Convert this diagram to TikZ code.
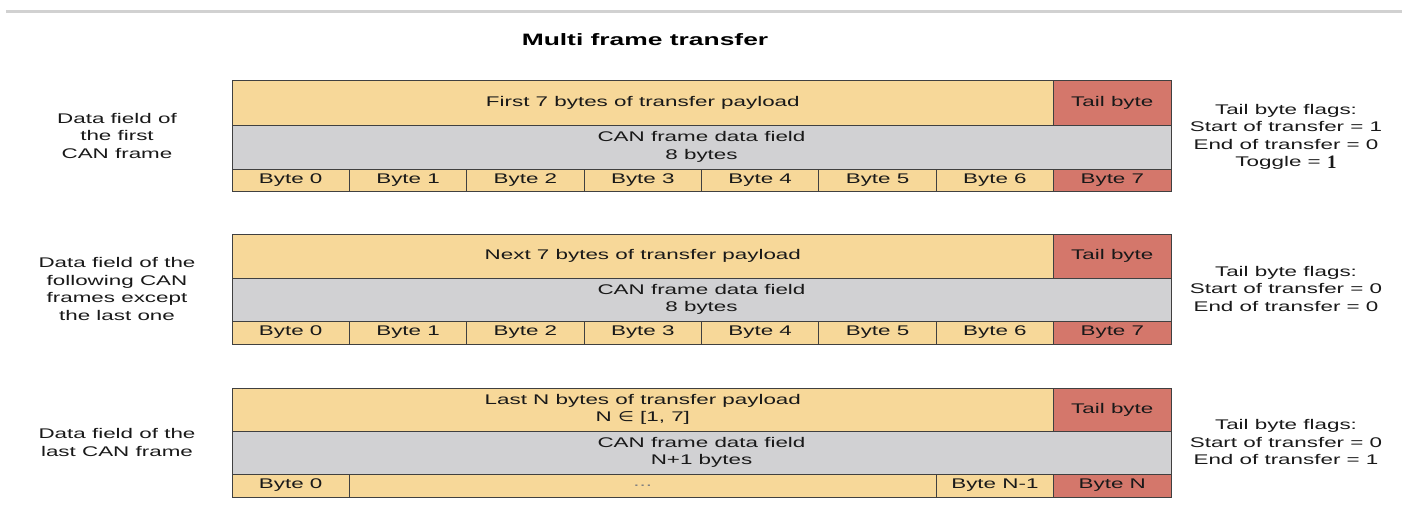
\documentclass[tikz,border=0pt]{standalone}
\usepackage{fontspec}
\setmainfont[FakeStretch=1.6]{Liberation Sans}
\newfontfamily\togglefont{Liberation Serif}
\newfontfamily\elemfont[FakeStretch=1.3]{DejaVu Sans}
\usetikzlibrary{positioning}

\definecolor{payloadyellow}{HTML}{F7D899}
\definecolor{tailred}{HTML}{D4776B}
\definecolor{fieldgray}{HTML}{D1D1D3}

\begin{document}
\begin{tikzpicture}[x = 1pt, y = -1pt]
  \tikzstyle{cell}=[rectangle, draw = black!75, thick, inner sep = 0pt, outer sep = 0pt, anchor = north west, align = center, text = black!90, font = \fontsize{14}{17.5}\selectfont]
  \tikzstyle{payload}=[cell, fill = payloadyellow]
  \tikzstyle{tail}=[cell, fill = tailred]
  \tikzstyle{datafield}=[cell, fill = fieldgray]
  \tikzstyle{note}=[align = center, text = black!90, font = \fontsize{14}{17.5}\selectfont]

  \useasboundingbox (0,0) rectangle (1402,510);
  \draw[black!18, line width = 3pt] (6,12) -- (1402,12);

  \node[font = \bfseries\fontsize{16.5}{20}\selectfont] (title) at (645,40) {Multi frame transfer};

  % first frame
  \node[payload, minimum width = 821.6, minimum height = 45] (pay1) at (232,80) {First 7 bytes of transfer payload};
  \node[tail, minimum width = 117.4, minimum height = 45, right = 0pt of pay1] (tail1) {Tail byte};
  \node[datafield, minimum width = 939, minimum height = 44] (can1) at (232,125) {CAN frame data field\\8 bytes};
  \foreach \i in {0,...,6}
    \node[payload, minimum width = 117.4, minimum height = 22] (f1b\i) at ({232+117.375*\i},169) {Byte \i};
  \node[tail, minimum width = 117.4, minimum height = 22, right = 0pt of f1b6] (f1b7) {Byte 7};
  \node[note] (lab1) at (117,135.5) {Data field of\\the first\\CAN frame};
  \node[note] (flag1) at (1286,137) {Tail byte flags:\\Start of transfer = 1\\End of transfer = 0\\Toggle = \raisebox{-2pt}{\togglefont\bfseries\fontsize{19}{19}\selectfont 1}};

  % following frames
  \node[payload, minimum width = 821.6, minimum height = 44] (pay2) at (232,234) {Next 7 bytes of transfer payload};
  \node[tail, minimum width = 117.4, minimum height = 44, right = 0pt of pay2] (tail2) {Tail byte};
  \node[datafield, minimum width = 939, minimum height = 43] (can2) at (232,278) {CAN frame data field\\8 bytes};
  \foreach \i in {0,...,6}
    \node[payload, minimum width = 117.4, minimum height = 23] (f2b\i) at ({232+117.375*\i},321) {Byte \i};
  \node[tail, minimum width = 117.4, minimum height = 23, right = 0pt of f2b6] (f2b7) {Byte 7};
  \node[note] (lab2) at (117,289) {Data field of the\\following CAN\\frames except\\the last one};
  \node[note] (flag2) at (1286,288.5) {Tail byte flags:\\Start of transfer = 0\\End of transfer = 0};

  % last frame
  \node[payload, minimum width = 821.6, minimum height = 43] (pay3) at (232,388) {Last N bytes of transfer payload\\N {\elemfont ∈} [1, 7]};
  \node[tail, minimum width = 117.4, minimum height = 43, right = 0pt of pay3] (tail3) {Tail byte};
  \node[datafield, minimum width = 939, minimum height = 43] (can3) at (232,431) {CAN frame data field\\N+1 bytes};
  \node[payload, minimum width = 117.4, minimum height = 23] (f3b0) at (232,474) {Byte 0};
  \node[payload, minimum width = 586.8, minimum height = 23, text = black!50, right = 0pt of f3b0] (f3dots) {...};
  \node[payload, minimum width = 117.4, minimum height = 23, right = 0pt of f3dots] (f3bn1) {Byte N-1};
  \node[tail, minimum width = 117.4, minimum height = 23, right = 0pt of f3bn1] (f3bn) {Byte N};
  \node[note] (lab3) at (117,442.5) {Data field of the\\last CAN frame};
  \node[note] (flag3) at (1286,442) {Tail byte flags:\\Start of transfer = 0\\End of transfer = 1};

\end{tikzpicture}
\end{document}
